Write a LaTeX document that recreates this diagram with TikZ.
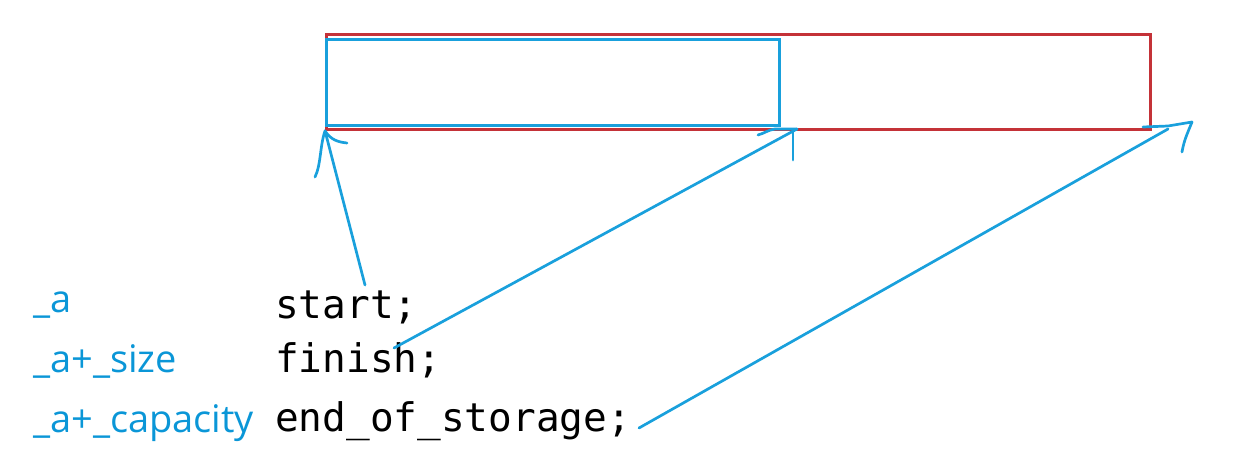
\documentclass[tikz,border=0pt]{standalone}
\usepackage{fontspec}
\newfontfamily\monofont{DejaVu Sans Mono}
\newfontfamily\lblfont{Open Sans}
\definecolor{lblblue}{RGB}{10,150,215}
\definecolor{lineblue}{RGB}{25,160,220}
\definecolor{boxred}{RGB}{196,50,56}
\begin{document}
\begin{tikzpicture}[x=1pt,y=-1pt,
  code/.style={inner sep=0pt, anchor=base west, font=\monofont\fontsize{39.4}{46}\selectfont, text=black},
  lbl/.style={inner sep=0pt, anchor=base west, font=\lblfont\fontsize{38}{44}\selectfont, text=lblblue},
  capbox/.style={draw=boxred, line width=2.8pt, inner sep=0pt, anchor=north west},
  sizebox/.style={draw=lineblue, line width=3.2pt, inner sep=0pt, anchor=north west},
  hand/.style={draw=lineblue, line width=2.7pt, line cap=round, line join=round}]
\useasboundingbox (0,0) rectangle (1240,460);
% boxes
\node[capbox, minimum width=824pt, minimum height=95pt] (cap) at (325,33) {};
\node[sizebox, minimum width=453pt, minimum height=86pt] (sz) at (324.5,38) {};
% labels
\node[lbl] (la) at (33,312) {\_a};
\node[lbl] (lsize) at (33,372) {\_a+\_size};
\node[lbl] (lcap) at (33,432) {\_a+\_capacity};
\node[code] (start) at (275,318) {start;};
\node[code] (finish) at (275,372) {finish;};
\node[code] (eos) at (275,431) {end\_of\_storage;};
% arrow ends
\coordinate (s0) at (365,285);
\coordinate (f0) at (394,348);
\coordinate (f1) at (797,129);
\coordinate (e0) at (639,428);
\coordinate (e1) at (1168,129);
% connectors
\draw[hand] (s0) -- (cap.south west);
\draw[hand] (315,177) .. controls (321,165) and (320,145) .. (325,131)
            .. controls (331,140) and (338,142) .. (347,143);
\draw[hand] (f0) -- (f1);
\draw[hand] (758,135) .. controls (765,133) and (768,130) .. (775,129) -- (f1);
\draw[hand] (793,131) -- (793,160);
\draw[hand] (e0) -- (e1);
\draw[hand] (1143,127) -- (1168,126) -- (1192,122) .. controls (1188,132) and (1184,140) .. (1182,152);
\end{tikzpicture}
\end{document}
